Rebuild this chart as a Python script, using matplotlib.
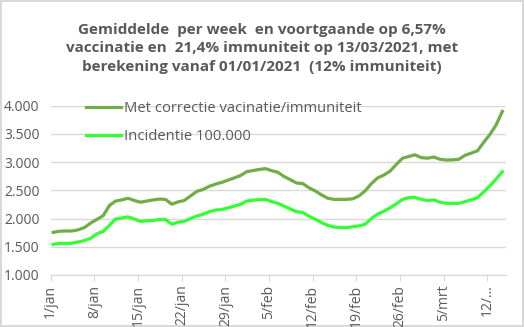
import numpy as np
import matplotlib.pyplot as plt

# ---------------------------------------------------------------
# data (one value per day, 1 jan .. 14 mrt 2021)
# ---------------------------------------------------------------
corrected = [1756, 1775, 1780, 1780, 1800, 1840, 1920, 1985, 2050, 2230,
             2310, 2330, 2360, 2320, 2290, 2310, 2330, 2345, 2340, 2255,
             2295, 2320, 2400, 2480, 2515, 2570, 2610, 2640, 2680, 2720,
             2760, 2830, 2850, 2870, 2885, 2850, 2820, 2745, 2690, 2630,
             2620, 2545, 2490, 2420, 2360, 2340, 2340, 2340, 2350, 2400,
             2490, 2620, 2720, 2770, 2840, 2960, 3070, 3100, 3130, 3080,
             3070, 3090, 3050, 3037, 3040, 3050, 3120, 3160, 3200, 3350,
             3490, 3660, 3900]
incidence = [1543, 1560, 1560, 1562, 1585, 1610, 1650, 1730, 1770, 1880,
             1990, 2010, 2030, 1990, 1950, 1960, 1965, 1985, 1985, 1900,
             1935, 1950, 2000, 2045, 2075, 2120, 2150, 2160, 2190, 2220,
             2250, 2310, 2325, 2335, 2340, 2300, 2270, 2220, 2170, 2120,
             2110, 2040, 1990, 1930, 1880, 1850, 1840, 1840, 1855, 1870,
             1900, 2000, 2080, 2130, 2190, 2260, 2340, 2370, 2375, 2340,
             2320, 2330, 2290, 2270, 2270, 2270, 2300, 2330, 2370, 2470,
             2580, 2700, 2830]
tick_labels = ["1/jan", "8/jan", "15/jan", "22/jan", "29/jan", "5/feb",
               "12/feb", "19/feb", "26/feb", "5/mrt", "12/…"]
y_ticks = [1000, 1500, 2000, 2500, 3000, 3500, 4000]
y_labels = ["1.000", "1.500", "2.000", "2.500", "3.000", "3.500", "4.000"]

label_dark = "Met correctie vacinatie/immuniteit"
label_light = "Incidentie 100.000"
title = ("Gemiddelde  per week  en voortgaande op 6,57%\n"
         "vaccinatie en  21,4% immuniteit op 13/03/2021, met\n"
         "berekening vanaf 01/01/2021  (12% immuniteit)")

# ---------------------------------------------------------------
# plot
# ---------------------------------------------------------------
plt.rcParams['font.family'] = ['Open Sans', 'DejaVu Sans']
grey = '#595959'

fig = plt.figure(figsize=(5.24, 3.27), dpi=100)
fig.patch.set_edgecolor('#D9D9D9')
fig.patch.set_linewidth(1.5)
ax = fig.add_axes([50.7 / 524, 1 - 275 / 327, (505.5 - 50.7) / 524, (275 - 105.7) / 327])

days = np.arange(len(corrected))
ax.plot(days + 0.4, corrected, color='#70AD47', lw=2.3, label=label_dark)
ax.plot(days + 0.4, incidence, color='#33FF33', lw=2.3, label=label_light)

ax.set_ylim(1000, 4000)
ax.set_xlim(0, 72.9)
ax.set_yticks(y_ticks)
ax.set_yticklabels(y_labels)
ax.set_xticks(np.arange(0, 7 * len(tick_labels), 7))
ax.set_xticklabels(tick_labels, rotation=90)

ax.grid(axis='y', color='#D9D9D9', lw=1)
ax.set_axisbelow(True)
for s in ['top', 'right', 'left']:
    ax.spines[s].set_visible(False)
ax.spines['bottom'].set_color('#D9D9D9')
ax.tick_params(axis='y', length=0, pad=8, labelsize=10, labelcolor=grey)
ax.tick_params(axis='x', length=4, color='#D9D9D9', pad=3, labelsize=10, labelcolor=grey)

fig.text(0.5, 0.93, title, ha='center', va='top', fontsize=11, fontweight='bold',
         color=grey, linespacing=1.4)

ax.legend(loc='upper left', bbox_to_anchor=(86 / 524, 1 - 101 / 327),
          bbox_transform=fig.transFigure, frameon=False, fontsize=10.6,
          handlelength=2.4, handletextpad=0.15, labelspacing=0.9,
          labelcolor=grey, borderpad=0, borderaxespad=0)

fig.savefig('out.png', dpi=100)
